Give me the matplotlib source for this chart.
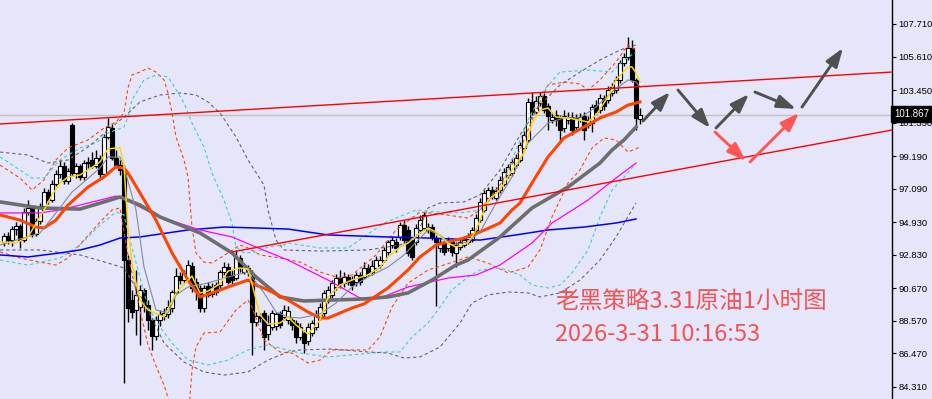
import matplotlib
matplotlib.use("Agg")
import matplotlib.pyplot as plt
import numpy as np

# ---------------------------------------------------------
# price data (1h bars)
# ---------------------------------------------------------
opens = [
    93.65, 94.03, 93.77, 94.48, 94.68, 93.77, 95.58, 95.84, 94.16, 95.00,
    95.97, 96.87, 96.35, 97.39, 98.03, 98.55, 97.58, 101.19, 98.10, 98.55,
    97.84, 98.74, 98.94, 98.55, 99.06, 98.03, 100.42, 101.00, 99.06, 98.61,
    98.29, 92.48, 89.90, 89.26, 89.45, 90.55, 89.58, 88.61, 87.58, 88.61,
    88.87, 89.00, 89.38, 90.42, 91.45, 91.19, 91.32, 92.10, 91.06, 90.68,
    89.38, 90.81, 90.29, 90.87, 90.87, 91.71, 92.03, 91.52, 91.32, 92.61,
    91.71, 91.97, 91.39, 88.48, 88.87, 89.06, 87.71, 88.16, 88.23, 89.06,
    88.81, 88.61, 88.61, 88.42, 87.52, 87.77, 87.26, 87.77, 88.16, 88.81,
    89.06, 89.90, 90.23, 90.74, 91.32, 91.00, 91.39, 91.19, 91.06, 91.52,
    91.39, 91.97, 91.71, 91.97, 92.16, 92.48, 93.00, 93.45, 93.65, 93.97,
    94.74, 94.42, 93.77, 93.65, 94.42, 94.55, 94.42, 94.61, 93.90, 93.26,
    93.65, 93.26, 93.65, 92.94, 93.32, 93.45, 93.65, 93.77, 94.42, 95.06,
    95.71, 96.48, 97.00, 96.48, 97.00, 97.39, 97.97, 98.10, 98.61, 98.94,
    99.71, 100.23, 102.68, 102.03, 102.61, 103.06, 102.42, 101.52, 101.84, 101.65,
    101.00, 101.52, 101.71, 101.06, 101.52, 101.77, 101.19, 101.32, 102.48, 102.16,
    102.94, 102.81, 103.26, 103.45, 104.10, 105.19, 105.58, 106.16, 104.10, 101.58,
]
highs = [
    94.23, 94.29, 94.68, 94.93, 94.81, 95.84, 96.35, 95.97, 95.19, 96.16,
    97.13, 97.06, 97.65, 98.29, 98.94, 98.81, 98.42, 101.32, 98.74, 98.68,
    98.94, 99.13, 99.45, 99.58, 99.26, 100.61, 101.65, 101.26, 99.58, 98.94,
    98.61, 92.81, 90.55, 91.84, 90.87, 90.68, 89.90, 88.74, 88.87, 89.26,
    89.38, 89.90, 90.55, 91.97, 91.71, 91.84, 92.48, 92.35, 91.32, 90.87,
    90.87, 91.06, 91.00, 91.06, 91.84, 92.35, 92.29, 91.84, 93.13, 92.81,
    92.23, 92.16, 91.84, 89.13, 89.06, 89.26, 88.94, 89.26, 89.13, 89.19,
    89.58, 89.51, 88.74, 88.61, 88.42, 87.97, 88.42, 88.61, 89.26, 89.71,
    90.55, 90.81, 91.19, 91.58, 91.84, 91.71, 91.58, 91.45, 91.71, 91.71,
    92.35, 92.23, 92.48, 92.74, 92.74, 93.32, 93.77, 94.03, 93.90, 94.93,
    95.06, 94.68, 93.97, 94.81, 95.39, 95.58, 94.87, 94.81, 94.10, 93.90,
    93.77, 93.97, 93.90, 93.65, 93.90, 94.03, 94.23, 94.61, 95.45, 96.48,
    97.00, 97.19, 97.26, 97.19, 97.90, 98.42, 98.68, 99.06, 99.32, 100.10,
    100.81, 102.94, 103.32, 103.06, 103.32, 103.26, 102.61, 102.03, 102.16, 101.84,
    102.16, 102.03, 102.03, 101.90, 101.97, 102.03, 101.77, 102.55, 102.81, 103.19,
    103.13, 103.71, 103.91, 104.35, 105.39, 105.84, 106.87, 106.68, 104.23, 102.29,
]
lows = [
    93.39, 93.52, 93.39, 94.10, 93.26, 93.65, 95.39, 93.97, 94.03, 94.81,
    95.77, 96.10, 96.23, 97.26, 97.77, 97.39, 97.39, 97.90, 97.77, 97.65,
    97.65, 98.42, 98.42, 98.42, 97.77, 97.90, 100.29, 98.94, 98.42, 97.97,
    84.55, 88.48, 88.74, 87.65, 87.00, 89.13, 87.97, 86.68, 87.32, 88.23,
    88.61, 88.74, 89.13, 90.29, 90.94, 91.00, 91.19, 90.42, 89.90, 89.13,
    89.13, 90.10, 90.10, 90.23, 90.68, 91.52, 90.94, 90.94, 91.19, 91.71,
    91.58, 91.45, 86.35, 88.23, 88.48, 86.68, 87.32, 87.97, 87.97, 88.10,
    88.61, 88.35, 87.97, 87.13, 87.32, 86.48, 87.00, 87.58, 87.97, 88.61,
    88.74, 89.71, 90.03, 90.55, 90.68, 90.74, 90.87, 90.55, 90.81, 90.87,
    91.26, 91.45, 91.52, 91.84, 91.97, 92.35, 92.81, 93.26, 93.00, 93.77,
    93.58, 92.74, 92.48, 93.45, 94.23, 94.42, 94.23, 93.77, 89.51, 93.00,
    92.81, 93.06, 92.74, 92.03, 93.13, 93.32, 93.52, 93.65, 94.29, 94.93,
    95.58, 96.35, 96.42, 96.35, 96.81, 97.26, 97.77, 97.90, 98.42, 98.81,
    99.58, 100.10, 101.84, 101.90, 102.42, 101.97, 100.87, 101.32, 101.13, 100.23,
    100.74, 101.26, 100.55, 100.87, 101.39, 100.23, 101.00, 100.74, 101.84, 101.97,
    102.16, 102.61, 103.06, 103.26, 103.91, 105.00, 105.39, 103.97, 100.87, 101.26,
]
closes = [
    94.03, 93.77, 94.48, 94.68, 93.77, 95.58, 95.84, 94.16, 95.00, 95.97,
    96.87, 96.35, 97.39, 98.03, 98.55, 97.58, 98.23, 98.10, 98.55, 97.84,
    98.74, 98.81, 98.55, 99.06, 98.03, 100.42, 101.06, 99.06, 98.61, 98.29,
    92.48, 89.38, 89.13, 90.23, 90.55, 89.58, 88.61, 87.58, 88.61, 89.00,
    89.06, 89.45, 90.42, 91.45, 91.19, 91.65, 92.16, 90.68, 90.48, 89.38,
    90.68, 90.23, 90.74, 90.42, 91.71, 92.03, 91.06, 91.19, 92.61, 91.97,
    91.97, 91.71, 88.48, 88.87, 88.74, 87.52, 88.29, 89.06, 89.00, 88.29,
    89.26, 89.19, 88.29, 87.52, 88.16, 87.13, 88.16, 88.42, 89.00, 89.45,
    90.36, 90.55, 91.00, 91.32, 91.00, 91.39, 91.06, 90.87, 91.52, 91.06,
    91.97, 91.65, 92.10, 92.48, 92.48, 93.13, 93.65, 93.77, 93.26, 94.74,
    93.77, 92.94, 92.68, 94.55, 95.06, 95.39, 94.61, 93.97, 93.65, 93.65,
    93.00, 93.77, 93.00, 93.45, 93.65, 93.77, 93.97, 94.42, 95.19, 96.23,
    96.81, 97.00, 96.61, 96.94, 97.65, 98.16, 98.48, 98.81, 99.06, 99.90,
    100.55, 102.68, 102.03, 102.74, 103.06, 102.16, 101.77, 101.71, 101.52, 100.87,
    101.77, 101.71, 100.87, 101.65, 101.71, 100.87, 101.52, 102.35, 102.03, 102.94,
    102.42, 103.45, 103.65, 104.10, 105.19, 105.58, 106.16, 104.10, 101.65, 101.867,
]
last_price = 101.867

# ---------------------------------------------------------
# indicator lines (bar index, price)
# ---------------------------------------------------------
yellow_x = [-1, 3, 6, 10, 12, 14, 16, 19, 21, 24, 26, 28, 29, 30, 31, 32, 33, 34, 36, 40,
            41, 43, 46, 47, 49, 51, 54, 56, 59, 61, 62, 64, 66, 69, 71, 73, 76, 79, 81, 84,
            87, 91, 94, 96, 99, 101, 104, 106, 108, 111, 113, 116, 118, 121, 124, 127, 130,
            132, 134, 136, 138, 141, 146, 148, 151, 153, 156, 157, 158, 159]
yellow_y = [93.65, 93.58, 93.97, 95.71, 96.68, 97.45, 97.84, 97.97, 98.29, 98.81, 99.65,
            99.71, 99.71, 98.6, 94.5, 92.3, 91.0, 89.90, 89.26, 88.81,
            89.32, 90.36, 91.19, 91.45, 90.36, 90.48, 90.94, 91.77, 91.97, 91.90, 90.94,
            88.94, 88.35, 88.42, 88.81, 88.29, 87.71, 88.61, 90.10, 90.87,
            91.19, 91.52, 92.03, 92.68, 93.32, 93.58, 94.23, 94.55, 94.29, 93.58, 93.32,
            93.58, 94.42, 96.35, 97.00, 98.29, 99.39,
            101.32, 102.16, 102.29, 101.71, 101.65, 101.39, 101.84, 103.00, 104.10, 104.94,
            104.94, 104.55, 103.97]

slate_x = [-1, 9, 13, 17, 20, 24, 26, 29, 30, 33, 35, 38, 41, 43, 46, 51, 56, 61, 65, 68,
           71, 74, 79, 83, 87, 91, 96, 100, 104, 106, 109, 112, 116, 119, 123, 127, 131,
           136, 140, 144, 148, 152, 156, 158, 159]
slate_y = [93.45, 94.23, 95.52, 96.87, 97.52, 98.42, 99.13, 99.13, 98.48, 95.71, 92.03,
           89.26, 89.06, 90.23, 90.74, 91.00, 91.39, 91.71, 90.36, 89.13,
           88.81, 88.74, 89.00, 89.71, 90.74, 91.39, 92.03, 92.81, 93.90, 94.42, 94.10,
           93.45, 93.65, 94.29, 96.16, 97.84, 100.03,
           101.32, 101.65, 101.65, 102.35, 103.32, 104.10, 103.97, 103.65]

orange_x = [-1, 4, 8, 10, 13, 16, 21, 25, 28, 30, 31, 34, 38, 42, 46, 49, 52, 56, 61, 63,
            66, 71, 76, 79, 81, 87, 90, 96, 101, 104, 108, 111, 115, 119, 124, 127, 129,
            132, 136, 140, 145, 149, 153, 156, 159]
orange_y = [95.39, 95.06, 94.61, 94.55, 95.06, 96.03, 97.19, 97.84, 98.50, 98.40, 98.10,
            96.81, 95.06, 92.94, 91.19, 90.10, 90.36, 90.74, 91.19, 90.87,
            90.55, 89.90, 89.13, 88.74, 88.74, 89.39, 89.65, 90.68, 91.84, 92.68, 93.45,
            93.65, 93.90, 94.29, 94.87, 95.71, 96.16,
            97.45, 99.13, 100.36, 101.06, 101.65, 102.03, 102.48, 102.68]

ma_gray_x = [-1, 9, 19, 25, 29, 34, 39, 49, 57, 63, 69, 75, 90, 96, 101, 107, 113, 116,
             124, 132, 141, 149, 152, 155, 158]
ma_gray_y = [96.23, 95.84, 95.77, 96.23, 96.55, 96.03, 95.26, 94.23, 92.94, 91.39, 90.10,
             89.84, 89.97, 90.10, 90.36, 91.19, 92.16, 92.48,
             93.97, 95.84, 97.19, 98.74, 99.58, 100.23, 101.06]

magenta_x = [-1, 9, 14, 19, 24, 28, 29, 34, 39, 49, 57, 63, 71, 81, 89, 94, 101, 111, 118,
             124, 132, 137, 146, 153, 158]
magenta_y = [95.52, 95.52, 95.71, 96.03, 96.35, 96.61, 96.55, 95.90, 95.26, 94.42, 93.97,
             93.32, 92.48, 91.19, 90.03, 90.03, 90.74, 91.32, 91.52,
             92.16, 93.58, 94.87, 96.35, 97.77, 98.74]

blue_x = [-1, 6, 14, 19, 24, 29, 34, 39, 46, 55, 63, 71, 81, 96, 106, 119, 128, 136, 145,
          153, 158]
blue_y = [92.81, 92.68, 92.94, 93.13, 93.45, 93.90, 93.97, 94.16, 94.42, 94.61, 94.55,
          94.48, 94.10, 93.97, 93.90, 93.77, 94.10, 94.42, 94.61, 94.87, 95.13]

# band lines (dashed)
org_up_x = [-1, 4, 7, 10, 13, 16, 21, 25, 28, 30, 31, 32, 34, 36, 38, 40, 41, 42, 43, 45,
            46, 47, 48, 50, 52, 54, 56, 59, 61, 64, 69, 74, 79, 84, 87, 93, 98, 104, 109,
            116, 119, 124, 129, 133, 136, 140, 144, 146, 149, 153, 156, 158]
org_up_y = [98.61, 97.77, 97.00, 97.65, 98.94, 99.71, 100.23, 101.00, 101.39, 101.97,
            103.58, 104.42, 104.61, 104.87, 104.61, 104.10, 103.26, 101.97, 100.42, 98.94,
            97.84, 94.61, 92.94, 92.35, 92.29, 92.61, 92.94, 93.45, 93.26, 92.81, 92.61,
            92.35, 91.71, 91.32, 91.52, 92.81, 94.42, 95.58, 95.45,
            95.19, 95.71, 97.32, 99.58, 102.16, 103.77, 103.97, 103.84, 103.45, 104.10,
            105.26, 106.36, 106.03]
org_lo_x = [-1, 4, 9, 13, 16, 20, 24, 27, 29, 31, 34, 36, 38, 40, 43, 46, 47, 48, 50, 54,
            58, 61, 62, 65, 69, 72, 76, 79, 82, 91, 94, 97, 101, 106, 110, 116, 121, 126,
            131, 134, 137, 141, 144, 147, 150, 153, 156, 159]
org_lo_y = [93.00, 92.61, 92.35, 92.16, 92.61, 93.77, 94.93, 95.71, 95.84, 92.81, 89.26,
            87.00, 85.65, 84.42, 82.0, 82.0, 85.39, 86.87, 87.77, 87.84,
            89.26, 89.90, 89.45, 87.32, 86.55, 86.48, 85.84, 86.03, 86.68, 86.68, 87.52,
            89.45, 90.99, 91.84, 92.16, 92.68, 92.29, 91.65,
            92.03, 93.13, 95.26, 97.45, 98.29, 99.71, 100.36, 100.23, 99.45, 99.77]

cyan_up_x = [-1, 4, 7, 10, 14, 19, 23, 26, 30, 31, 32, 35, 38, 41, 42, 45, 47, 50, 52, 55,
             57, 58, 60, 63, 66, 70, 71, 79, 86, 95, 103, 109, 114, 119, 124, 127, 131,
             135, 139, 146, 152, 155, 158]
cyan_up_y = [99.13, 98.29, 97.77, 97.77, 98.94, 99.71, 100.03, 100.68, 101.06, 101.71,
             102.81, 104.10, 104.42, 104.29, 103.90, 102.61, 101.32, 99.77, 98.10, 96.35,
             94.87, 93.32, 92.94, 93.00, 93.32, 93.45, 93.58, 93.26, 93.26, 94.87, 95.71,
             95.58, 95.52, 95.71, 97.00, 98.94, 101.52,
             103.45, 104.61, 104.74, 104.61, 105.39, 105.90]
cyan_lo_x = [-1, 6, 14, 19, 24, 28, 30, 31, 34, 36, 39, 42, 46, 51, 56, 61, 66, 71, 74, 81,
             95, 99, 102, 106, 109, 112, 116, 119, 124, 129, 132, 136, 139, 142, 146, 149,
             152, 156, 158]
cyan_lo_y = [92.48, 92.16, 92.61, 93.45, 94.74, 95.58, 95.39, 94.23, 91.39, 89.45, 88.16,
             87.13, 86.03, 85.71, 86.03, 86.68, 87.00, 86.68, 86.48, 86.23,
             86.55, 86.55, 87.52, 88.42, 89.45, 90.55, 91.39, 91.84, 91.97, 91.52, 90.87,
             90.68, 90.87, 91.65, 93.13, 95.26, 97.00, 98.10, 98.74]

gry_up_x = [-1, 6, 11, 16, 21, 26, 30, 34, 39, 44, 48, 51, 54, 58, 61, 65, 66, 68, 70, 79,
            91, 99, 103, 106, 109, 115, 119, 124, 129, 134, 139, 144, 149, 154, 158]
gry_up_y = [99.45, 99.26, 98.74, 98.94, 99.77, 100.87, 101.71, 102.68, 103.13, 103.26,
            103.13, 102.68, 101.97, 100.42, 98.94, 97.32, 95.71, 93.77, 93.13, 93.06,
            93.13, 93.45, 93.97, 95.84, 96.16, 96.23, 96.68, 98.29, 100.55, 102.48, 103.77,
            104.61, 105.39, 106.03, 106.36]
gry_lo_x = [-1, 9, 19, 26, 30, 34, 36, 40, 45, 50, 55, 61, 66, 71, 74, 82, 91, 96, 100,
            104, 109, 114, 117, 121, 126, 131, 134, 139, 144, 149, 153, 158]
gry_lo_y = [93.13, 93.13, 92.81, 92.29, 91.97, 90.23, 89.26, 87.13, 85.90, 85.26, 85.06,
            85.26, 86.03, 86.55, 86.68, 86.74, 86.55, 86.48, 86.16,
            86.23, 86.87, 88.42, 89.71, 90.23, 90.42, 90.36, 90.10, 90.36, 91.19, 92.48,
            93.97, 96.16]

# trend lines: (bar, price) end points
upper_trend = ([-1, 222], [101.26, 104.61])
lower_trend = ([57, 222], [93.00, 100.87])

# forecast arrows: start bar, start price, end bar, end price
gray_arrows = [
    (159.75, 101.45, 166.5, 103.32),
    (168.5, 103.45, 176.5, 101.00),
    (178.0, 101.00, 186.25, 103.19),
    (187.75, 103.32, 198.0, 102.23),
    (199.5, 102.35, 209.75, 106.16),
]
red_arrows = [
    (177.75, 100.74, 185.5, 98.87),
    (186.5, 98.81, 198.75, 101.97),
]

price_ticks = [107.71, 105.61, 103.45, 101.35, 99.19, 97.09, 94.93, 92.83, 90.67, 88.57,
               86.47, 84.31]

title_line1 = "老黑策略3.31原油1小时图"
title_line2 = "2026-3-31 10:16:53"

# ---------------------------------------------------------
BG = "#E6E6FA"
W, H = 932, 399

fig = plt.figure(figsize=(W / 100, H / 100), dpi=100)
fig.patch.set_facecolor(BG)
ax = fig.add_axes([0, 0, 892 / W, 1])
ax.set_facecolor(BG)

ax.axhline(last_price, color="#C0C0C0", lw=1.0, zorder=1)

# candles
idx = np.arange(len(closes))
o = np.array(opens)
c = np.array(closes)
hi = np.array(highs)
lo = np.array(lows)
ax.vlines(idx, lo, hi, color="black", lw=1.0, zorder=2)
up = c >= o
body_lo = np.minimum(o, c)
body_h = np.maximum(np.abs(c - o), 0.05)
ax.bar(idx[up], body_h[up], bottom=body_lo[up], width=0.78, color="white",
       edgecolor="black", linewidth=0.8, zorder=2.5)
ax.bar(idx[~up], body_h[~up], bottom=body_lo[~up], width=0.78, color="black",
       edgecolor="black", linewidth=0.8, zorder=2.5)

# dashed bands
dash = (0, (3, 2.5))
ax.plot(org_up_x, org_up_y, color="#FF4500", lw=0.8, ls=dash, zorder=3)
ax.plot(org_lo_x, org_lo_y, color="#FF4500", lw=0.8, ls=dash, zorder=3)
ax.plot(cyan_up_x, cyan_up_y, color="#3CCFCF", lw=0.8, ls=dash, zorder=3)
ax.plot(cyan_lo_x, cyan_lo_y, color="#3CCFCF", lw=0.8, ls=dash, zorder=3)
ax.plot(gry_up_x, gry_up_y, color="#666666", lw=0.8, ls=dash, zorder=3)
ax.plot(gry_lo_x, gry_lo_y, color="#666666", lw=0.8, ls=dash, zorder=3)

# moving averages
ax.plot(blue_x, blue_y, color="#0000FF", lw=1.1, zorder=3.2)
ax.plot(magenta_x, magenta_y, color="#FF00FF", lw=0.9, zorder=3.2)
ax.plot(ma_gray_x, ma_gray_y, color="#6E6E6E", lw=2.6, zorder=3.3)
ax.plot(orange_x, orange_y, color="#FF4500", lw=2.2, zorder=3.4)
ax.plot(slate_x, slate_y, color="#7F8C99", lw=0.8, zorder=3.5)
ax.plot(yellow_x, yellow_y, color="#FFD700", lw=1.1, zorder=3.6)

# trend lines
ax.plot(*upper_trend, color="#FF0000", lw=1.0, zorder=4)
ax.plot(*lower_trend, color="#FF0000", lw=1.0, zorder=4)

# arrows
for arrows, col in ((gray_arrows, "#505050"), (red_arrows, "#FF5555")):
    for x0, y0, x1, y1 in arrows:
        ax.annotate("", xy=(x1, y1), xytext=(x0, y0),
                    arrowprops=dict(arrowstyle="-|>,head_length=0.8,head_width=0.28",
                                    color=col, lw=2.1, shrinkA=0, shrinkB=0,
                                    mutation_scale=14),
                    zorder=5)

ax.set_xlim(-1, 222)
ax.set_ylim(83.516, 109.258)

for s in ("top", "left", "bottom"):
    ax.spines[s].set_visible(False)
ax.spines["right"].set_color("black")
ax.spines["right"].set_linewidth(1.0)
ax.set_xticks([])
ax.yaxis.tick_right()
ax.set_yticks(price_ticks)
ax.set_yticklabels([f"{t:.3f}" for t in price_ticks], fontsize=6.8,
                   family="Liberation Sans")
ax.tick_params(axis="y", length=3, width=0.8, pad=1.5, colors="black")

# current price tag
fig.text(894 / W, 1 - 114 / H, f"{last_price:.3f}", color="white", fontsize=7,
         family="Liberation Sans", va="center", ha="left",
         bbox=dict(facecolor="black", edgecolor="black", boxstyle="square,pad=0.3"))

# caption
fam = ["Noto Sans CJK SC", "DejaVu Sans"]
fig.text(555 / W, 1 - 308 / H, title_line1, color="#F25454", fontsize=17,
         family=fam, va="baseline", ha="left")
fig.text(555 / W, 1 - 341 / H, title_line2, color="#F25454", fontsize=17,
         family=fam, va="baseline", ha="left")

fig.savefig("out.png", dpi=100, facecolor=BG)
